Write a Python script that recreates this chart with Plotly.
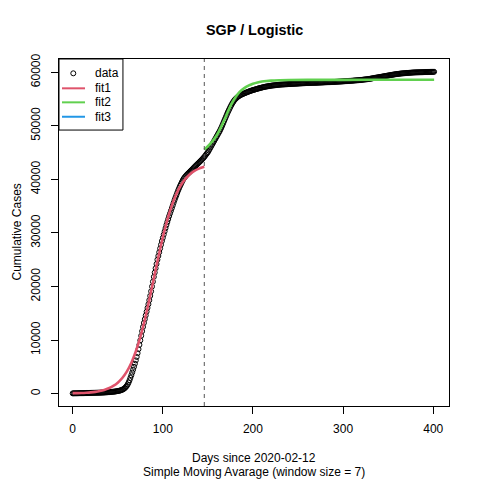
import plotly.graph_objects as go

# 7-day SMA of cumulative cases, one value per day since 2020-02-12
cases = [
    45, 47, 50, 52, 55, 58, 62, 66, 70, 74,
    78, 83, 88, 93, 98, 103, 108, 112, 116, 120,
    124, 128, 133, 138, 144, 150, 156, 160, 164, 167,
    170, 178, 186, 194, 203, 212, 222, 232, 243, 255,
    268, 282, 297, 313, 330, 348, 368, 390, 415, 442,
    472, 505, 545, 595, 655, 725, 810, 920, 1060, 1240,
    1450, 1720, 2060, 2470, 2930, 3420, 3930, 4460, 5000, 5580,
    6200, 6850, 7550, 8300, 9100, 9950, 10800, 11650, 12450, 13200,
    13900, 14600, 15300, 16000, 16700, 17450, 18250, 19100, 20000, 20900,
    21800, 22600, 23400, 24200, 25000, 25700, 26400, 27100, 27800, 28500,
    29100, 29700, 30300, 30900, 31500, 32050, 32600, 33150, 33650, 34150,
    34650, 35150, 35650, 36150, 36600, 37050, 37500, 37950, 38350, 38750,
    39100, 39450, 39800, 40100, 40350, 40550, 40750, 40930, 41100, 41270,
    41440, 41610, 41780, 41950, 42120, 42290, 42460, 42630, 42800, 42970,
    43140, 43310, 43480, 43650, 43820, 44000, 44200, 44420, 44650, 44880,
    45100, 45400, 45700, 46000, 46300, 46600, 46900, 47200, 47500, 47800,
    48100, 48400, 48700, 49000, 49350, 49700, 50100, 50500, 50900, 51300,
    51700, 52100, 52500, 52850, 53200, 53550, 53880, 54180, 54450, 54700,
    54920, 55100, 55260, 55400, 55520, 55630, 55730, 55820, 55900, 55970,
    56040, 56110, 56180, 56250, 56320, 56390, 56450, 56510, 56570, 56630,
    56680, 56730, 56780, 56830, 56880, 56930, 56980, 57030, 57080, 57120,
    57160, 57200, 57240, 57280, 57320, 57350, 57380, 57410, 57440, 57470,
    57500, 57520, 57540, 57560, 57580, 57600, 57620, 57640, 57660, 57680,
    57700, 57710, 57720, 57730, 57740, 57750, 57760, 57770, 57780, 57790,
    57800, 57810, 57820, 57830, 57840, 57850, 57860, 57870, 57880, 57890,
    57900, 57910, 57920, 57930, 57940, 57950, 57960, 57970, 57980, 57990,
    58000, 58005, 58010, 58015, 58020, 58025, 58030, 58035, 58040, 58045,
    58050, 58058, 58066, 58074, 58082, 58090, 58098, 58106, 58114, 58122,
    58130, 58138, 58146, 58154, 58162, 58170, 58178, 58186, 58194, 58202,
    58210, 58220, 58230, 58240, 58250, 58260, 58270, 58280, 58290, 58300,
    58310, 58322, 58334, 58346, 58358, 58370, 58382, 58394, 58406, 58418,
    58430, 58445, 58460, 58475, 58490, 58505, 58520, 58535, 58550, 58565,
    58580, 58600, 58620, 58640, 58660, 58680, 58700, 58720, 58745, 58770,
    58800, 58830, 58860, 58890, 58920, 58950, 58980, 59010, 59040, 59070,
    59100, 59130, 59160, 59190, 59220, 59250, 59280, 59310, 59340, 59370,
    59400, 59430, 59460, 59490, 59520, 59550, 59580, 59610, 59640, 59665,
    59690, 59710, 59730, 59750, 59770, 59790, 59805, 59820, 59835, 59850,
    59865, 59878, 59891, 59904, 59917, 59930, 59942, 59954, 59966, 59978,
    59980, 59986, 59992, 59998, 60004, 60010, 60016, 60022, 60028, 60034,
    60040, 60045, 60050, 60055, 60060, 60065, 60070, 60075, 60080, 60085,
    60090, 60095,
]
days = list(range(len(cases)))

# logistic fit on first wave (up to the split day)
fit1_days = [0, 5, 10, 15, 20, 25, 30, 35, 40, 45, 50, 55, 60, 65, 70, 75,
             80, 85, 90, 95, 100, 105, 110, 115, 120, 125, 130, 135, 140, 146]
fit1_vals = [80, 90, 115, 160, 225, 326, 472, 684, 988, 1422, 2040, 2905,
             4100, 5720, 7850, 10540, 13795, 17516, 21500, 25484, 29205,
             32460, 35150, 37280, 38900, 40095, 40960, 41578, 42012, 42364]

# logistic fit on second part
fit2_days = [146, 150, 155, 160, 165, 170, 175, 180, 185, 190, 195, 200, 205,
             210, 215, 220, 230, 240, 260, 300, 350, 401]
fit2_vals = [45600, 46200, 47100, 48300, 49900, 51800, 53700, 55200, 56300,
             57000, 57500, 57850, 58100, 58270, 58380, 58450, 58520, 58560,
             58580, 58590, 58600, 58600]

split_day = 146

RED, GREEN, BLUE = "#DF536B", "#61D04F", "#2297E6"
FONT = "Liberation Sans, Arial, Helvetica, sans-serif"

fig = go.Figure()
fig.add_trace(go.Scatter(x=days, y=cases, mode="markers", name="data",
                         marker=dict(symbol="circle-open", size=5, color="black",
                                     line=dict(width=1, color="black"))))
fig.add_trace(go.Scatter(x=fit1_days, y=fit1_vals, mode="lines", name="fit1",
                         line=dict(color=RED, width=2.6, shape="spline")))
fig.add_trace(go.Scatter(x=fit2_days, y=fit2_vals, mode="lines", name="fit2",
                         line=dict(color=GREEN, width=2.6, shape="spline")))

fig.add_shape(type="line", x0=split_day, x1=split_day, y0=0, y1=1,
              xref="x", yref="paper",
              line=dict(color="#555555", width=1, dash="4px,4px"))

# helpers: page pixel -> paper coords (plot area 59..449.3 x 59..405.7 on the page)
W, H = 390.3, 346.7
def px(x):
    return (x - 59) / W
def py(y):
    return (405.7 - y) / H

# R-style legend box in the top-left corner
fig.add_shape(type="rect", xref="paper", yref="paper", x0=0, x1=px(123),
              y0=py(130), y1=1, line=dict(color="black", width=1),
              fillcolor="white", layer="above")
legend_items = [("data", None), ("fit1", RED), ("fit2", GREEN), ("fit3", BLUE)]
legend_rows = [73.3, 88.3, 102.3, 116.7]
for (label, col), yy in zip(legend_items, legend_rows):
    if col is None:
        fig.add_shape(type="circle", xref="paper", yref="paper",
                      x0=px(70.8), x1=px(75.8), y0=py(75.8), y1=py(70.8),
                      line=dict(color="black", width=1), layer="above")
    else:
        fig.add_shape(type="line", xref="paper", yref="paper",
                      x0=px(62), x1=px(85), y0=py(yy), y1=py(yy),
                      line=dict(color=col, width=2), layer="above")
    fig.add_annotation(text=label, xref="paper", yref="paper", x=px(93), y=py(yy),
                       xanchor="left", yanchor="middle", showarrow=False,
                       font=dict(size=12, color="black", family=FONT))

# titles
fig.add_annotation(text="<b>SGP / Logistic</b>", xref="paper", yref="paper",
                   x=0.5, y=py(30), showarrow=False, yanchor="middle",
                   font=dict(size=14.4, color="black", family=FONT))
fig.add_annotation(text="Days since 2020-02-12", xref="paper", yref="paper",
                   x=0.5, y=py(458), showarrow=False, yanchor="middle",
                   font=dict(size=12, color="black", family=FONT))
fig.add_annotation(text="Simple Moving Avarage (window size = 7)", xref="paper",
                   yref="paper", x=0.5, y=py(472), showarrow=False, yanchor="middle",
                   font=dict(size=12, color="black", family=FONT))
fig.add_annotation(text="Cumulative Cases", xref="paper", yref="paper",
                   x=px(16), y=0.5, showarrow=False, textangle=-90,
                   xanchor="center", yanchor="middle",
                   font=dict(size=12, color="black", family=FONT))

axis_common = dict(showgrid=False, zeroline=False, showline=True, mirror=True,
                   linecolor="black", linewidth=1, ticks="outside", ticklen=7,
                   tickcolor="black", tickwidth=1, tickformat="d",
                   tickfont=dict(size=12, color="black", family=FONT))
fig.update_xaxes(range=[-15.2, 417.5], tickvals=[0, 100, 200, 300, 400],
                 ticklabelstandoff=5, **axis_common)
fig.update_yaxes(range=[-2318, 62486],
                 tickvals=[0, 10000, 20000, 30000, 40000, 50000, 60000],
                 tickangle=-90, ticklabelstandoff=6, **axis_common)

# the page body adds an 8px offset, so the figure is 472px and margins shifted
fig.update_layout(
    width=472, height=472, showlegend=False,
    plot_bgcolor="white", paper_bgcolor="white",
    margin=dict(l=51, r=31, t=51, b=74),
    font=dict(family=FONT, color="black"),
)
fig.write_html("out.html")
